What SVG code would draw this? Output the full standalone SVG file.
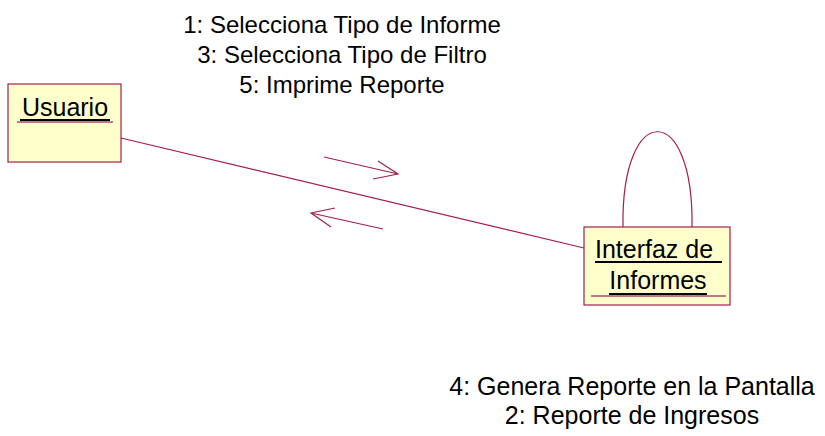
<svg xmlns="http://www.w3.org/2000/svg" width="825" height="436" viewBox="0 0 825 436">
<style>
.box{fill:#ffffcc;stroke:#a0204a;stroke-width:1.2}
.ln{fill:none;stroke:#a0204a;stroke-width:1.2}
.t{font-family:"Liberation Sans",Arial,sans-serif;font-size:25px;fill:#000}
.s{font-size:24px}
.ul{stroke:#000;stroke-width:2}
.ul2{stroke:#c07888;stroke-width:2}
</style>
<rect width="825" height="436" fill="#fff"/>
<g id="connectors">
<path class="ln" d="M121,138 L584,248"/>
<path class="ln" d="M623,227 C621,100 694,100 692,227"/>
<path class="ln" d="M324,157 L398,174 M378,161 L398,174 L373,179"/>
<path class="ln" d="M383,229 L311,213 M335,208 L311,213 L331,227"/>
</g>
<g id="usuario">
<rect class="box" x="8" y="84" width="113" height="78"/>
<text class="t" x="65" y="116" text-anchor="middle">Usuario</text>
<line class="ul" x1="20" y1="120" x2="110" y2="120"/>
<line class="ul2" x1="17" y1="122" x2="113" y2="122"/>
</g>
<g id="interfaz">
<rect class="box" x="584" y="227" width="146" height="78"/>
<text class="t" x="595" y="258">Interfaz de</text>
<line class="ul" x1="595" y1="262" x2="722" y2="262"/>
<text class="t" x="658" y="289" text-anchor="middle">Informes</text>
<line class="ul" x1="609" y1="294" x2="707" y2="294"/>
<line class="ul2" x1="591" y1="296" x2="726" y2="296"/>
</g>
<g id="labels">
<text class="t s" x="342" y="33" text-anchor="middle">1: Selecciona Tipo de Informe</text>
<text class="t s" x="342" y="63" text-anchor="middle">3: Selecciona Tipo de Filtro</text>
<text class="t s" x="342" y="93" text-anchor="middle">5: Imprime Reporte</text>
<text class="t" x="632" y="395" text-anchor="middle">4: Genera Reporte en la Pantalla</text>
<text class="t" x="632" y="424" text-anchor="middle">2: Reporte de Ingresos</text>
</g>
</svg>
